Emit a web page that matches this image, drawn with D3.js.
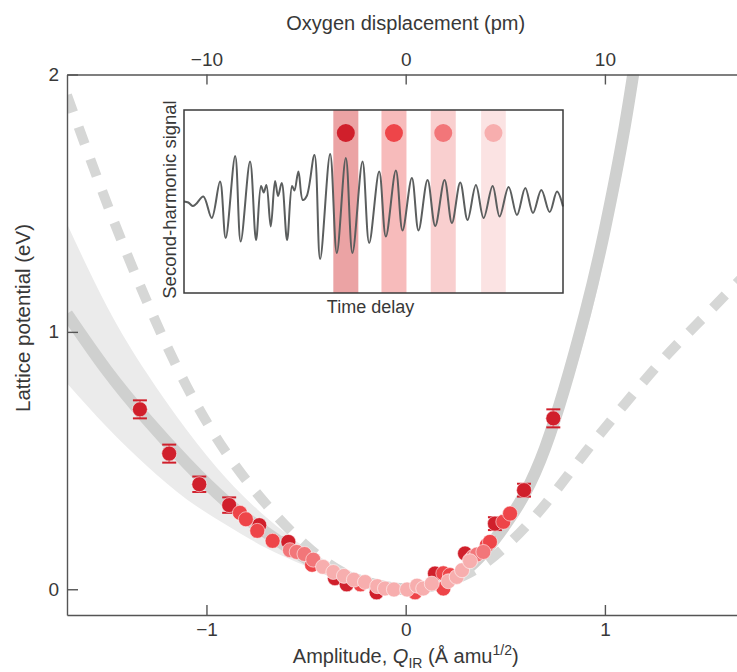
<!DOCTYPE html>
<html>
<head>
<meta charset="utf-8">
<script src="https://cdn.jsdelivr.net/npm/d3@7"></script>
<style>
  body { margin: 0; background: #fff; }
  text { font-family: "Liberation Sans", Arial, Helvetica, sans-serif; fill: #383838; }
</style>
</head>
<body>
<svg id="chart" width="737" height="672"></svg>
<script>
// ---- Lattice potential: anharmonic model (solid) with its uncertainty band ----
const modelQ   = [-1.70, -1.50, -1.30, -1.10, -0.90, -0.70, -0.50, -0.30, -0.10, 0.00, 0.10, 0.30, 0.50, 0.70, 0.90, 1.00, 1.10, 1.20];
const modelV   = [1.07, 0.85, 0.66, 0.49, 0.34, 0.22, 0.12, 0.05, 0.008, 0.00, 0.008, 0.075, 0.25, 0.55, 1.07, 1.40, 1.80, 2.30];
const bandHigh = [1.42, 1.10, 0.84, 0.62, 0.43, 0.28, 0.16, 0.07, 0.012, 0.00, 0.010, 0.09, 0.28, 0.60, 1.15, 1.50, 1.92, 2.45];
const bandLow  = [0.80, 0.63, 0.48, 0.35, 0.25, 0.16, 0.09, 0.035, 0.005, 0.00, 0.006, 0.065, 0.22, 0.50, 0.98, 1.30, 1.68, 2.15];

// ---- Comparison potential (dashed) ----
const harmQ = [-1.70, -1.50, -1.30, -1.10, -0.90, -0.70, -0.50, -0.30, -0.10, 0.00, 0.10, 0.30, 0.50, 0.70, 0.90, 1.10, 1.30, 1.50, 1.70];
const harmV = [1.92, 1.50, 1.12, 0.79, 0.53, 0.33, 0.17, 0.06, 0.008, 0.00, 0.006, 0.055, 0.165, 0.33, 0.53, 0.72, 0.90, 1.06, 1.22];

// ---- Measured amplitudes (Q, potential, error) for four pump-probe delays ----
const delay1Q = [-1.334, -1.187, -1.036, -0.886, -0.735, -0.589, -0.355, -0.296, -0.146, 0.147, 0.298, 0.448, 0.594, 0.741];
const delay1V = [0.699, 0.527, 0.408, 0.327, 0.249, 0.184, 0.043, 0.019, -0.012, 0.061, 0.139, 0.255, 0.385, 0.664];
const delay1E = [0.035, 0.035, 0.030, 0.030, 0, 0, 0, 0, 0, 0, 0, 0.025, 0.025, 0.035];

const delay2Q = [-0.832, -0.802, -0.745, -0.668, -0.470, -0.227, 0.047, 0.189, 0.222, 0.189, 0.323, 0.407, 0.423, 0.490, 0.524];
const delay2V = [0.297, 0.272, 0.227, 0.188, 0.095, 0.019, -0.012, 0.062, 0.055, 0.003, 0.113, 0.171, 0.184, 0.262, 0.294];

const delay3Q = [-0.581, -0.547, -0.508, -0.464, 0.339, 0.358, 0.390];
const delay3V = [0.152, 0.145, 0.137, 0.115, 0.126, 0.135, 0.145];

const delay4Q = [-0.415, -0.363, -0.310, -0.260, -0.204, -0.143, -0.104, -0.059, 0.007, 0.057, 0.088, 0.131, 0.214, 0.256, 0.283, 0.323];
const delay4V = [0.087, 0.067, 0.052, 0.037, 0.028, 0.012, 0.003, -0.001, -0.001, 0.014, 0.003, 0.022, 0.031, 0.048, 0.074, 0.109];

const delayColors = ["#d01f2b", "#ee4549", "#f27679", "#f7aeae"];

// ---- Inset: second-harmonic signal vs time delay (arb. units) ----
const shgTime = [0, 1.14, 2.29, 3.17, 5.11, 7.31, 9.51, 11.0, 13.5, 14.96, 17.43, 19.01, 20.33, 21.04, 21.74, 22.89, 24.03, 24.82, 25.79, 27.2, 28.52, 29.14, 30.19, 31.34, 32.39, 34.42, 35.92, 38.56, 40.32, 42.7, 44.45, 47.1, 48.86, 51.5, 53.26, 55.9, 57.66, 60.12, 61.88, 64.26, 66.29, 68.75, 70.69, 72.89, 74.82, 77.02, 79.05, 81.43, 83.27, 85.65, 87.85, 90.05, 92.08, 94.28, 96.48, 98.42, 100];
const shgSignal = [0, -0.02, -0.09, -0.05, 0.10, -0.33, 0.40, -0.73, 0.91, -0.80, 0.80, -0.77, 0.31, 0.18, 0.33, -0.50, 0.41, 0.11, 0.37, -0.77, 0.31, 0.22, 0.60, 0.03, 0.11, 0.93, -1.15, 0.95, -1.03, 0.87, -1.03, 0.80, -0.83, 0.60, -0.70, 0.62, -0.58, 0.47, -0.58, 0.43, -0.49, 0.43, -0.43, 0.38, -0.37, 0.33, -0.33, 0.31, -0.30, 0.29, -0.27, 0.27, -0.23, 0.23, -0.21, 0.20, -0.10];
const windowStart = [39.4, 52.1, 65.1, 78.4];
const windowEnd   = [46.0, 58.7, 71.7, 84.9];
const windowFill  = ["#eba3a4", "#f7bbbb", "#f9cfcf", "#fbe3e3"];
const markerLevel = 1.37;

// ---- Axis ticks ----
const qTicks = [-1, 0, 1];
const pmTicks = [-10, 0, 10];
const vTicks = [0, 1, 2];

// ================= drawing =================
const svg = d3.select("#chart");
const plotLeft = 67, plotRight = 737, plotTop = 74.5, plotBottom = 615;

const x = d3.scaleLinear().domain([-1.70, 1.663]).range([plotLeft, plotRight]);
const xPm = d3.scaleLinear().domain([-17.0, 16.63]).range([plotLeft, plotRight]);
const y = d3.scaleLinear().domain([-0.1, 2]).range([plotBottom, plotTop]);

svg.append("defs").append("clipPath").attr("id", "plot-clip")
  .append("rect").attr("x", plotLeft).attr("y", plotTop).attr("width", plotRight - plotLeft).attr("height", plotBottom - plotTop);

const plot = svg.append("g").attr("clip-path", "url(#plot-clip)");

const model = modelQ.map((q, i) => ({ q, v: modelV[i], hi: bandHigh[i], lo: bandLow[i] }));
const harm = harmQ.map((q, i) => ({ q, v: harmV[i] }));

// uncertainty band
plot.append("path")
  .datum(model)
  .attr("fill", "#ebebeb")
  .attr("d", d3.area().curve(d3.curveNatural).x(d => x(d.q)).y0(d => y(d.lo)).y1(d => y(d.hi)));

// anharmonic model curve
plot.append("path")
  .datum(model)
  .attr("fill", "none")
  .attr("stroke", "#cfd0cf")
  .attr("stroke-width", 12)
  .attr("d", d3.line().curve(d3.curveNatural).x(d => x(d.q)).y(d => y(d.v)));

// comparison curve
plot.append("path")
  .datum(harm)
  .attr("fill", "none")
  .attr("stroke", "#d6d7d6")
  .attr("stroke-width", 10)
  .attr("stroke-dasharray", "18 16")
  .attr("d", d3.line().curve(d3.curveNatural).x(d => x(d.q)).y(d => y(d.v)));

// measured points, earliest delay underneath
const groups = [
  { q: delay1Q, v: delay1V, e: delay1E },
  { q: delay2Q, v: delay2V },
  { q: delay3Q, v: delay3V },
  { q: delay4Q, v: delay4V }
];
groups.forEach((g, gi) => {
  const pts = g.q.map((q, i) => ({ q, v: g.v[i], e: g.e ? g.e[i] : 0 }));
  const layer = plot.append("g");
  const eb = layer.selectAll("g.eb").data(pts.filter(d => d.e > 0)).join("g")
    .attr("stroke", delayColors[gi]).attr("stroke-width", 2);
  eb.append("line").attr("x1", d => x(d.q)).attr("x2", d => x(d.q)).attr("y1", d => y(d.v - d.e)).attr("y2", d => y(d.v + d.e));
  eb.append("line").attr("x1", d => x(d.q) - 7).attr("x2", d => x(d.q) + 7).attr("y1", d => y(d.v + d.e)).attr("y2", d => y(d.v + d.e));
  eb.append("line").attr("x1", d => x(d.q) - 7).attr("x2", d => x(d.q) + 7).attr("y1", d => y(d.v - d.e)).attr("y2", d => y(d.v - d.e));
  layer.selectAll("circle").data(pts).join("circle")
    .attr("cx", d => x(d.q)).attr("cy", d => y(d.v)).attr("r", 7.5)
    .attr("fill", delayColors[gi])
    .attr("stroke", "#fff").attr("stroke-opacity", 0.55).attr("stroke-width", 1);
});

// ---- axes ----
function styleAxis(g) {
  g.attr("font-size", null).attr("font-family", null);
  g.selectAll("path.domain").attr("stroke", "#555").attr("stroke-width", 1.4);
  g.selectAll(".tick line").attr("stroke", "#555").attr("stroke-width", 1.4);
  g.selectAll(".tick text").attr("fill", "#383838").style("font-size", "19px");
}

svg.append("g").attr("transform", `translate(0,${plotBottom})`)
  .call(d3.axisBottom(x).tickValues(qTicks).tickSize(-10).tickSizeOuter(0).tickPadding(8).tickFormat(d3.format("d")))
  .call(styleAxis);

svg.append("g").attr("transform", `translate(0,${plotTop})`)
  .call(d3.axisTop(xPm).tickValues(pmTicks).tickSize(-10).tickSizeOuter(0).tickPadding(9).tickFormat(d3.format("d")))
  .call(styleAxis);

svg.append("g").attr("transform", `translate(${plotLeft},0)`)
  .call(d3.axisLeft(y).tickValues(vTicks).tickSize(-11).tickSizeOuter(0).tickPadding(8).tickFormat(d3.format("d")))
  .call(styleAxis);

// axis titles
svg.append("text").attr("x", 405.7).attr("y", 30).attr("text-anchor", "middle")
  .style("font-size", "20px").text("Oxygen displacement (pm)");

const xt = svg.append("text").attr("x", 405.7).attr("y", 663).attr("text-anchor", "middle").style("font-size", "20px");
xt.append("tspan").text("Amplitude, ");
xt.append("tspan").attr("font-style", "italic").text("Q");
xt.append("tspan").attr("dy", 5).style("font-size", "14px").text("IR");
xt.append("tspan").attr("dy", -5).text(" (Å amu");
xt.append("tspan").attr("dy", -8).style("font-size", "14px").text("1/2");
xt.append("tspan").attr("dy", 8).text(")");

svg.append("text").attr("transform", "translate(30,318) rotate(-90)").attr("text-anchor", "middle")
  .style("font-size", "20.5px").text("Lattice potential (eV)");

// ---- inset ----
const ix = d3.scaleLinear().domain([0, 100]).range([184, 563]);
const iy = d3.scaleLinear().domain([-1.83, 1.83]).range([293, 110]);
const inset = svg.append("g");
inset.append("rect").attr("x", ix(0)).attr("y", iy(1.83)).attr("width", ix(100) - ix(0)).attr("height", iy(-1.83) - iy(1.83))
  .attr("fill", "#fff");
inset.selectAll("rect.win").data(windowStart).join("rect").attr("class", "win")
  .attr("x", d => ix(d)).attr("width", (d, i) => ix(windowEnd[i]) - ix(d))
  .attr("y", iy(1.83)).attr("height", iy(-1.83) - iy(1.83))
  .attr("fill", (d, i) => windowFill[i]);
inset.selectAll("circle").data(windowStart).join("circle")
  .attr("cx", (d, i) => ix((d + windowEnd[i]) / 2)).attr("cy", iy(markerLevel)).attr("r", 9)
  .attr("fill", (d, i) => delayColors[i]);
inset.append("path")
  .datum(shgTime.map((t, i) => [t, shgSignal[i]]))
  .attr("fill", "none").attr("stroke", "#5b5e5e").attr("stroke-width", 2)
  .attr("d", d3.line().curve(d3.curveCatmullRom.alpha(0.5)).x(d => ix(d[0])).y(d => iy(d[1])));
inset.append("rect").attr("x", ix(0)).attr("y", iy(1.83)).attr("width", ix(100) - ix(0)).attr("height", iy(-1.83) - iy(1.83))
  .attr("fill", "none").attr("stroke", "#3a3a3a").attr("stroke-width", 1.5);
svg.append("text").attr("x", ix(50) - 3).attr("y", 313).attr("text-anchor", "middle").style("font-size", "18px").text("Time delay");
svg.append("text").attr("transform", `translate(176,${(iy(1.83) + iy(-1.83)) / 2 - 2}) rotate(-90)`).attr("text-anchor", "middle")
  .style("font-size", "18.5px").text("Second-harmonic signal");
</script>
</body>
</html>
